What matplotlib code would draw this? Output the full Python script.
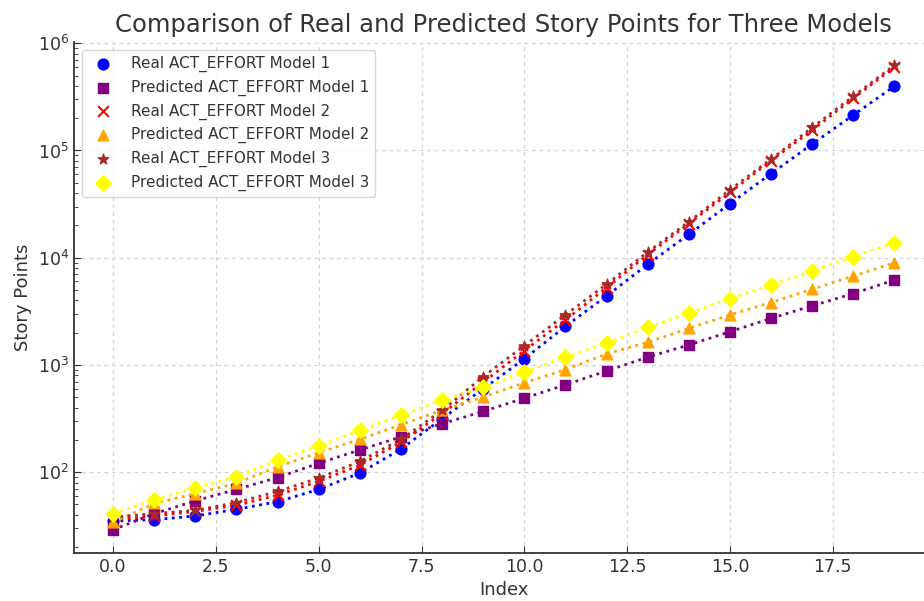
import numpy as np
import matplotlib.pyplot as plt

# index 0..19
index = np.arange(20)

# values (log scale)
real_m1 = [35, 36, 39, 45, 53, 69, 98, 164, 315, 598, 1140, 2290,
           4400, 8670, 16500, 31900, 60700, 115000, 214000, 398000]
pred_m1 = [29, 41, 54, 69, 89, 121, 161, 213, 283, 368, 490, 652,
           879, 1180, 1535, 2040, 2720, 3560, 4630, 6190]
real_m2 = [36, 39, 43, 49, 61, 82, 116, 191, 351, 690, 1360, 2630,
           5250, 10700, 20800, 40600, 80500, 155000, 307000, 601000]
pred_m2 = [34, 51, 63, 79, 112, 152, 202, 277, 377, 501, 681, 904,
           1265, 1625, 2190, 2930, 3820, 5080, 6750, 8970]
real_m3 = [38, 41, 44, 52, 66, 88, 126, 202, 376, 778, 1510, 2930,
           5650, 11300, 21600, 43000, 83000, 164000, 321000, 624000]
pred_m3 = [41, 55, 71, 91, 129, 176, 245, 338, 466, 621, 855, 1180,
           1600, 2240, 3040, 4160, 5570, 7520, 10200, 13800]

series = [
    (real_m1, 'blue', 'o', 'Real ACT_EFFORT Model 1'),
    (pred_m1, 'purple', 's', 'Predicted ACT_EFFORT Model 1'),
    (real_m2, 'red', 'x', 'Real ACT_EFFORT Model 2'),
    (pred_m2, 'orange', '^', 'Predicted ACT_EFFORT Model 2'),
    (real_m3, 'brown', '*', 'Real ACT_EFFORT Model 3'),
    (pred_m3, 'yellow', 'D', 'Predicted ACT_EFFORT Model 3'),
]

text_col = '#333333'

fig = plt.figure(figsize=(9.24, 6.01), dpi=100)
ax = fig.add_axes([0.0801, 0.0799, 0.9302, 0.8502])

for vals, col, mk, lab in series:
    ax.scatter(index, vals, color=col, marker=mk, s=60, label=lab, zorder=3)
    ax.plot(index, vals, color=col, linestyle=':', linewidth=2, zorder=2)

ax.set_yscale('log')
ax.set_title('Comparison of Real and Predicted Story Points for Three Models',
             fontsize=17.5, color=text_col, pad=7)
ax.set_xlabel('Index', fontsize=13, color=text_col)
ax.set_ylabel('Story Points', fontsize=13, color=text_col)

# light, finely dashed grid
ax.grid(True, which='major', linestyle=(0, (3, 3)), color='#d3d3d3', linewidth=0.9)
ax.set_axisbelow(True)
for s in ['top', 'right']:
    ax.spines[s].set_visible(False)
for s in ['left', 'bottom']:
    ax.spines[s].set_color(text_col)
    ax.spines[s].set_linewidth(1.3)
ax.tick_params(which='both', direction='in', colors=text_col, labelsize=12.5)
ax.tick_params(which='major', length=5)
ax.tick_params(which='minor', length=3)

leg = ax.legend(loc='upper left', fontsize=11, frameon=True, framealpha=0.8)
for t in leg.get_texts():
    t.set_color(text_col)

fig.savefig('out.png', dpi=100)
